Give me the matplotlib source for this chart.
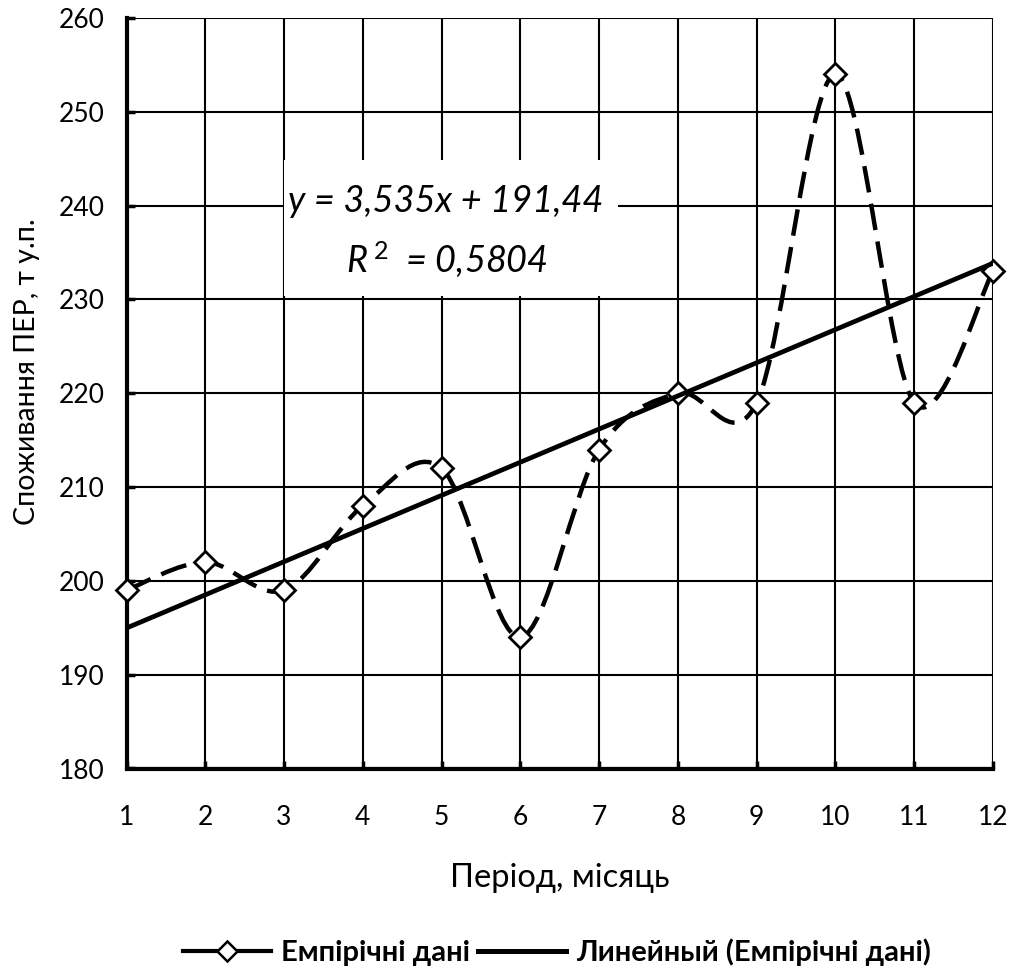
import numpy as np
import matplotlib.pyplot as plt
from matplotlib.lines import Line2D
from matplotlib.path import Path
from matplotlib.patches import PathPatch, Rectangle

plt.rcParams['font.family'] = ['Lato', 'DejaVu Sans']
plt.rcParams['mathtext.fontset'] = 'custom'
plt.rcParams['mathtext.rm'] = 'Lato'
plt.rcParams['mathtext.it'] = 'Lato:italic'

# дані
months = [1, 2, 3, 4, 5, 6, 7, 8, 9, 10, 11, 12]
consumption = [199, 202, 199, 208, 212, 194, 214, 220, 219, 254, 219, 233]
eq_text = 'y = 3,535x + 191,44'
r2_text = r'$\mathit{R}^{\,\mathit{2}}$  = 0,5804'
legend_labels = ['Емпірічні дані', 'Линейный (Емпірічні дані)']


def smooth_path(x, y):
    """згладжена лінія як у Excel (Catmull-Rom -> Bezier)"""
    pts = np.column_stack([x, y]).astype(float)
    ext = np.vstack([pts[0], pts, pts[-1]])
    verts = [tuple(pts[0])]
    codes = [Path.MOVETO]
    for i in range(len(pts) - 1):
        p0, p1, p2, p3 = ext[i], ext[i + 1], ext[i + 2], ext[i + 3]
        c1 = p1 + (p2 - p0) / 6.0
        c2 = p2 - (p3 - p1) / 6.0
        verts += [tuple(c1), tuple(c2), tuple(p2)]
        codes += [Path.CURVE4] * 3
    return Path(verts, codes)


W, H = 1011, 971
fig = plt.figure(figsize=(W / 100, H / 100), dpi=100)
ax = fig.add_axes([126.5 / W, 1 - 768.5 / H, (993 - 126.5) / W, (768.5 - 18) / H])

x = np.array(months)
y = np.array(consumption)

# згладжена пунктирна лінія
patch = PathPatch(smooth_path(x, y), facecolor='none', edgecolor='black',
                  lw=3.2, linestyle=(0, (6.0, 2.6)), zorder=3, clip_on=False)
ax.add_patch(patch)
ax.plot(x, y, linestyle='none', marker='D', markersize=11,
        markerfacecolor='white', markeredgecolor='black', markeredgewidth=2,
        zorder=4, clip_on=False)

# лінійний тренд
k, b = np.polyfit(x, y, 1)
xt = np.array([x.min(), x.max()])
ax.plot(xt, k * xt + b, color='black', lw=3.4, zorder=5, solid_capstyle='butt')

ax.set_xlim(1, 12)
ax.set_ylim(180, 260)
ax.set_xticks(months)
ax.set_yticks(np.arange(180, 261, 10))
ax.grid(True, color='black', lw=1.5, zorder=0)
ax.set_axisbelow(True)
for s in ['top', 'right']:
    ax.spines[s].set_visible(False)
for s in ['left', 'bottom']:
    ax.spines[s].set_linewidth(3)
ax.tick_params(direction='in', length=6, width=2.5, labelsize=19)
ax.tick_params(axis='y', pad=16)
ax.tick_params(axis='x', pad=26)

ax.set_xlabel('Період, місяць', fontsize=23.5, labelpad=24)
ax.set_ylabel('Споживання ПЕР, т у.п.', fontsize=20.5)
ax.yaxis.set_label_coords(-0.100, 0.529)

# підпис рівняння тренду на білому полі
ax.add_patch(Rectangle((284 / W, 1 - 296 / H), 334 / W, 136 / H,
                       transform=fig.transFigure, facecolor='white',
                       edgecolor='none', zorder=6))
ax.text(446 / W, 1 - 212 / H, eq_text, transform=fig.transFigure,
        ha='center', va='baseline', fontsize=26, style='italic', zorder=7)
ax.text(447 / W, 1 - 272 / H, r2_text, transform=fig.transFigure,
        ha='center', va='baseline', fontsize=26, style='italic', zorder=7)

handles = [
    Line2D([0], [0], color='black', lw=3, marker='D', markersize=10,
           markerfacecolor='white', markeredgecolor='black', markeredgewidth=1.8),
    Line2D([0], [0], color='black', lw=3.6),
]
fig.legend(handles, legend_labels, loc='center left',
           bbox_to_anchor=(183 / W, 1 - 952 / H), ncol=2, frameon=False,
           prop={'weight': 'bold', 'size': 21}, handlelength=3.0,
           columnspacing=0.3, handletextpad=0.35, borderpad=0, borderaxespad=0)

fig.savefig('out.png', dpi=100)
